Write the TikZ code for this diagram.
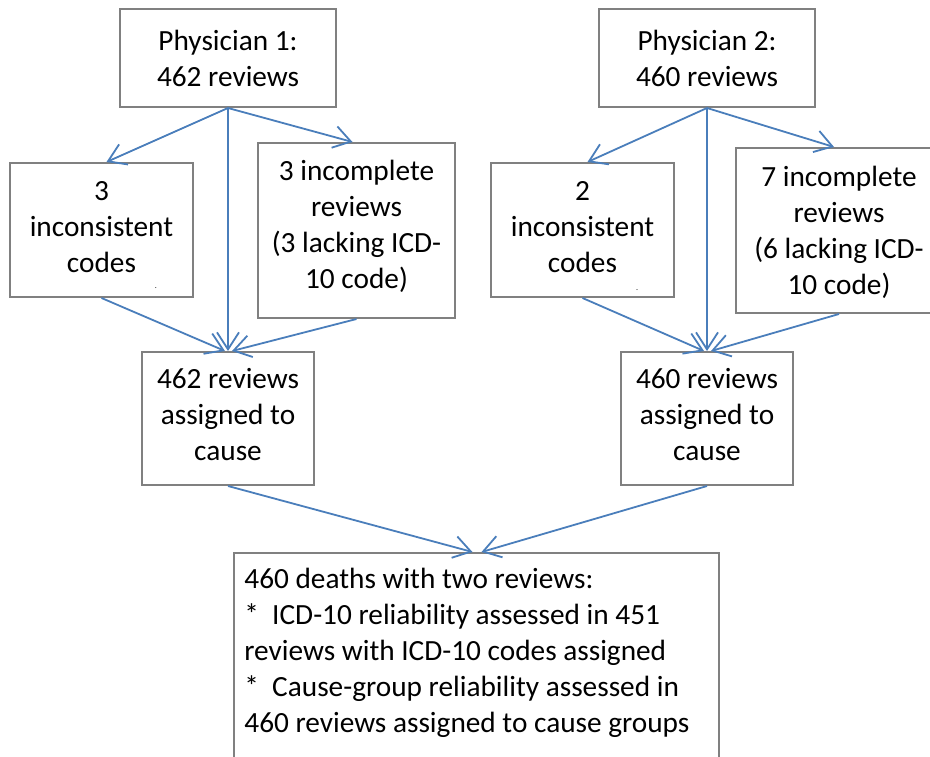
\documentclass[tikz,border=0pt]{standalone}
\usepackage{fontspec}
\setmainfont{Carlito}
\usetikzlibrary{arrows.meta}
\definecolor{arrowblue}{HTML}{4A7EBB}
\definecolor{boxgray}{HTML}{808080}
\begin{document}
\begin{tikzpicture}[x=0.5pt,y=-0.5pt,
  box/.style={draw=boxgray, line width=1pt, fill=white, inner sep=0pt},
  txt/.style={inner sep=0pt, align=center, anchor=north, font=\fontsize{14.65}{18}\selectfont},
  arr/.style={draw=arrowblue, line width=0.9pt, -{Straight Barb[length=8.5pt,width=11pt]}},
  tinydot/.style={inner sep=0pt, font=\fontsize{4}{5}\selectfont}]
\useasboundingbox (0,0) rectangle (930,756);
\clip (0,0) rectangle (930,756);
% boxes
\node[box, minimum width=108pt, minimum height=49pt] (p1) at (228,58) {};
\node[box, minimum width=108pt, minimum height=49pt] (p2) at (707,58) {};
\node[box, minimum width=91.5pt, minimum height=67pt] (inc1) at (101.5,230) {};
\node[box, minimum width=91.5pt, minimum height=67pt] (inc2) at (582.5,230) {};
\node[box, minimum width=98.5pt, minimum height=87.5pt] (icp1) at (356.5,230.5) {};
\node[box, minimum width=103pt, minimum height=82.5pt] (icp2) at (839,230.5) {};
\node[box, minimum width=86pt, minimum height=66.5pt] (as1) at (228,418.5) {};
\node[box, minimum width=86pt, minimum height=66.5pt] (as2) at (707,418.5) {};
\node[box, minimum width=242.5pt, minimum height=123.5pt] (fin) at (476.5,676.5) {};
% texts
\node[txt] (p1t) at (228,22) {\rule{0pt}{14pt}Physician 1:\\462 reviews};
\node[txt] (p2t) at (707,22) {\rule{0pt}{14pt}Physician 2:\\460 reviews};
\node[txt] (inc1t) at (101.5,172) {\rule{0pt}{14pt}3\\inconsistent\\codes};
\node[txt] (inc2t) at (582.5,172) {\rule{0pt}{14pt}2\\inconsistent\\codes};
\node[txt] (icp1t) at (356.5,152) {\rule{0pt}{14pt}3 incomplete\\reviews\\(3 lacking ICD-\\10 code)};
\node[txt] (icp2t) at (839,158) {\rule{0pt}{14pt}7 incomplete\\reviews\\(6 lacking ICD-\\10 code)};
\node[txt] (as1t) at (228,360) {\rule{0pt}{14pt}462 reviews\\assigned to\\cause};
\node[txt] (as2t) at (707,360) {\rule{0pt}{14pt}460 reviews\\assigned to\\cause};
\node[txt, align=left, anchor=north west] (fint) at (244,560) {\rule{0pt}{14pt}460 deaths with two reviews:\\*\ \ ICD-10 reliability assessed in 451\\reviews with ICD-10 codes assigned\\*\ \ Cause-group reliability assessed in\\460 reviews assigned to cause groups};
\node[tinydot] (d1) at (156,288) {.};
\node[tinydot] (d2) at (637,290) {.};
% connectors
\draw[arr] (p1.south) -- ([xshift=2.5pt]inc1.north);
\draw[arr] (p1.south) -- ([xshift=-2pt]icp1.north);
\draw[arr] (p1.south) -- (as1.north);
\draw[arr] (inc1.south) -- ([xshift=-1.5pt]as1.north);
\draw[arr] (icp1.south) -- ([xshift=2pt]as1.north);
\draw[arr] (p2.south) -- ([xshift=2.5pt]inc2.north);
\draw[arr] (p2.south) -- ([xshift=-2.5pt]icp2.north);
\draw[arr] (p2.south) -- (as2.north);
\draw[arr] (inc2.south) -- ([xshift=-1.5pt]as2.north);
\draw[arr] (icp2.south) -- ([xshift=2pt]as2.north);
\draw[arr] (as1.south) -- ([xshift=-2pt]fin.north);
\draw[arr] (as2.south) -- ([xshift=2.5pt]fin.north);
\end{tikzpicture}
\end{document}
